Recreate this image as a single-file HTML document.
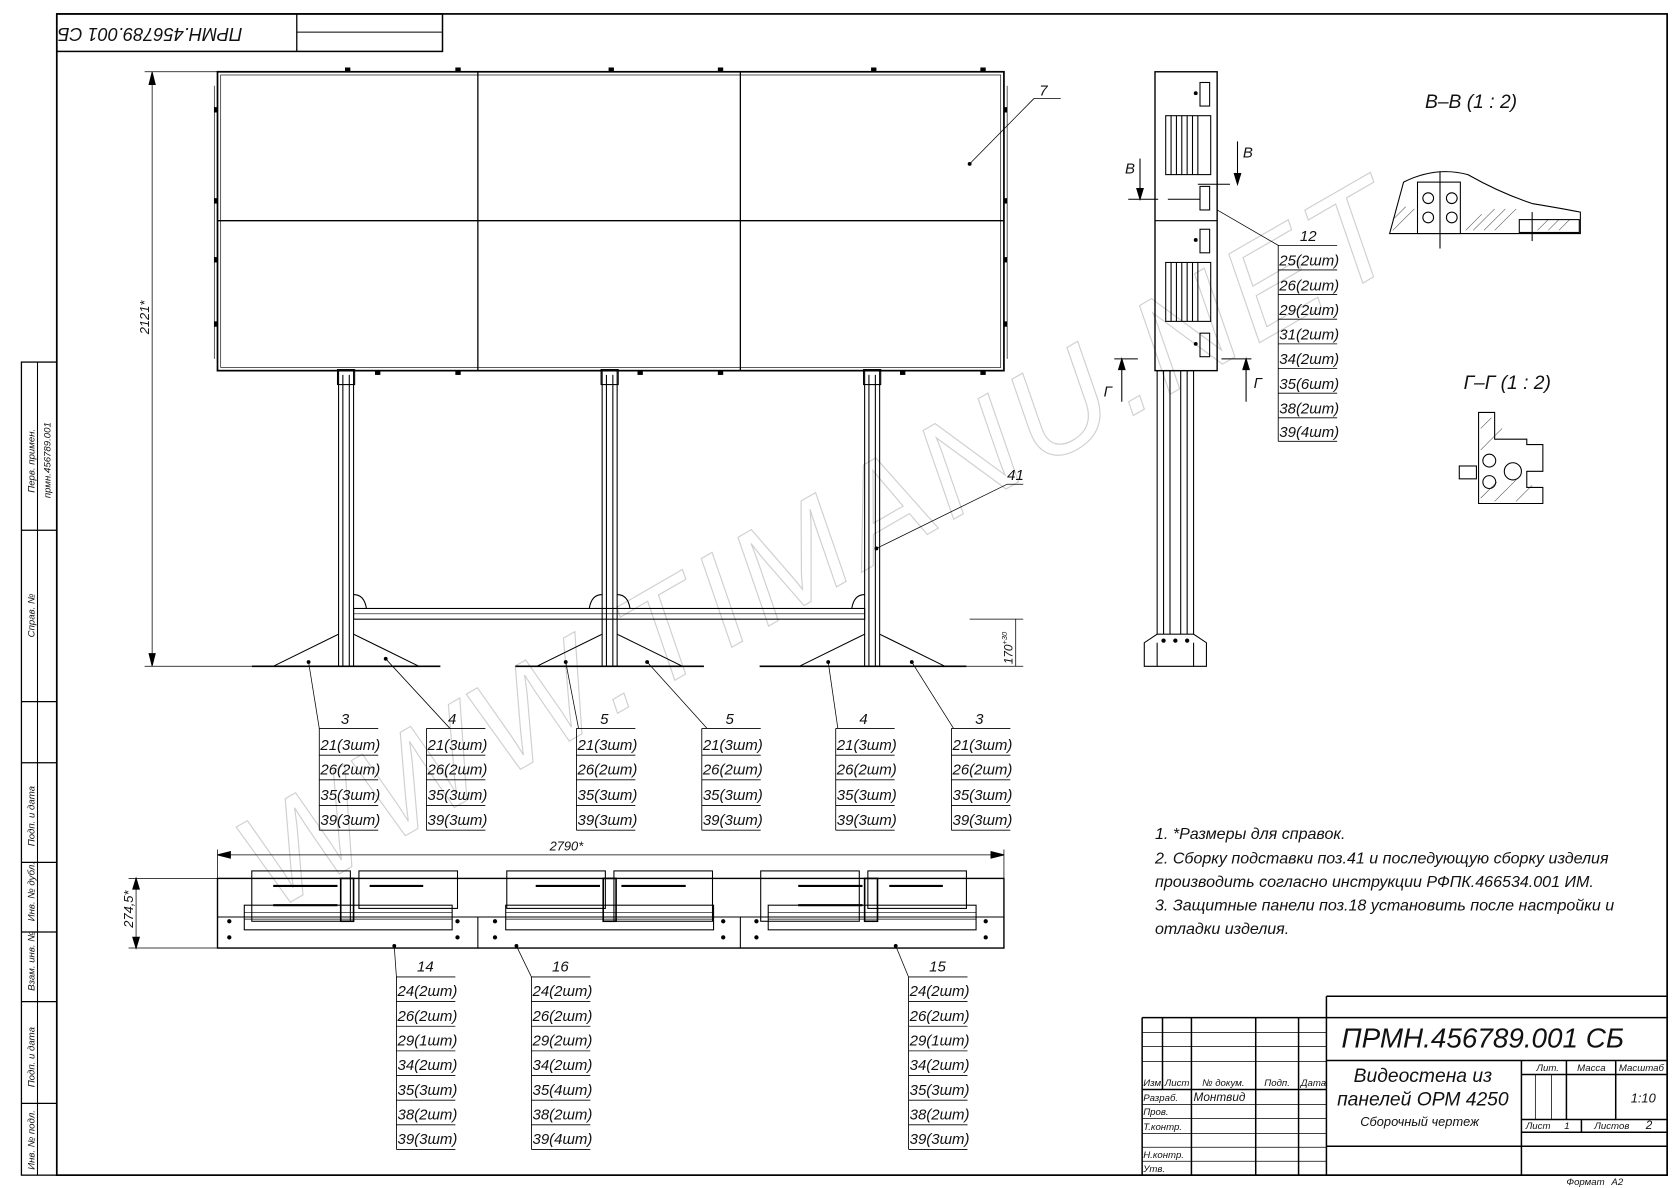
<!DOCTYPE html>
<html><head><meta charset="utf-8"><style>
html,body{margin:0;padding:0;background:#fff}
svg{display:block}
text{font-family:"Liberation Sans","DejaVu Sans",sans-serif;font-style:italic;fill:#111}
.t{font-size:14px}
.s{font-size:9px}
</style></head><body>
<svg width="1680" height="1188" viewBox="0 0 1568 1109" preserveAspectRatio="none" xmlns="http://www.w3.org/2000/svg">
<rect width="1568" height="1109" fill="#fff"/>
<!-- watermark -->
<g transform="rotate(-30 765 505)"><text x="765" y="550" text-anchor="middle" style="font-size:125px;font-style:italic;fill:none;stroke:#d0d0d0;stroke-width:1.1;letter-spacing:6px">WWW.TIMANU.NET</text></g>
<g fill="none" stroke="#000" stroke-width="1">
<!-- frame -->
<rect x="53" y="13" width="1503" height="1084" stroke-width="1.6"/>
<rect x="20" y="338" width="33" height="759" stroke-width="1.2"/>
<line x1="35" y1="338" x2="35" y2="1097"/>
<line x1="20" y1="495" x2="53" y2="495" stroke-width="1.2"/>
<line x1="20" y1="655" x2="53" y2="655" stroke-width="1.2"/>
<line x1="20" y1="712" x2="53" y2="712" stroke-width="1.2"/>
<line x1="20" y1="805" x2="53" y2="805" stroke-width="1.2"/>
<line x1="20" y1="870" x2="53" y2="870" stroke-width="1.2"/>
<line x1="20" y1="935" x2="53" y2="935" stroke-width="1.2"/>
<line x1="20" y1="1030" x2="53" y2="1030" stroke-width="1.2"/>
<!-- top-left stamp -->
<rect x="53" y="13" width="360" height="35" stroke-width="1.4"/>
<line x1="277" y1="13" x2="277" y2="48" stroke-width="1.2"/>
<line x1="277" y1="30" x2="413" y2="30"/>

<!-- front view panel -->
<rect x="203" y="67" width="734" height="279" stroke-width="1.6"/>
<rect x="206" y="70" width="728" height="273" stroke-width="0.6"/>
<line x1="446" y1="67" x2="446" y2="346" stroke-width="1.2"/>
<line x1="691" y1="67" x2="691" y2="346" stroke-width="1.2"/>
<line x1="203" y1="206" x2="937" y2="206" stroke-width="1.2"/>
<line x1="200" y1="80" x2="200" y2="335" stroke-width="0.6"/>
<line x1="940" y1="80" x2="940" y2="335" stroke-width="0.6"/>
<g fill="#000" stroke="none">
<rect x="322" y="63" width="5" height="4"/><rect x="425" y="63" width="5" height="4"/><rect x="568" y="63" width="5" height="4"/><rect x="670" y="63" width="5" height="4"/><rect x="813" y="63" width="5" height="4"/><rect x="915" y="63" width="5" height="4"/>
<rect x="937" y="100" width="3" height="5"/><rect x="937" y="185" width="3" height="5"/><rect x="937" y="240" width="3" height="5"/><rect x="937" y="300" width="3" height="5"/>
<rect x="200" y="100" width="3" height="5"/><rect x="200" y="185" width="3" height="5"/><rect x="200" y="240" width="3" height="5"/><rect x="200" y="300" width="3" height="5"/>
<rect x="350" y="346" width="5" height="4"/><rect x="425" y="346" width="5" height="4"/><rect x="595" y="346" width="5" height="4"/><rect x="670" y="346" width="5" height="4"/><rect x="840" y="346" width="5" height="4"/><rect x="915" y="346" width="5" height="4"/>
</g>
<!-- legs -->
<g stroke-width="1">
<rect x="316" y="346" width="14" height="276"/><line x1="320" y1="350" x2="320" y2="622"/><line x1="326" y1="350" x2="326" y2="622"/>
<rect x="562" y="346" width="14" height="276"/><line x1="566" y1="350" x2="566" y2="622"/><line x1="572" y1="350" x2="572" y2="622"/>
<rect x="807" y="346" width="14" height="276"/><line x1="811" y1="350" x2="811" y2="622"/><line x1="817" y1="350" x2="817" y2="622"/>
<rect x="315" y="345" width="16" height="14"/><rect x="561" y="345" width="16" height="14"/><rect x="806" y="345" width="16" height="14"/>
<!-- crossbar -->
<rect x="330" y="568" width="477" height="10"/>
<line x1="330" y1="573" x2="807" y2="573" stroke-width="0.5"/>
<path d="M330 555 q10 0 12 13 M562 555 q-10 0 -12 13 M576 555 q10 0 12 13 M807 555 q-10 0 -12 13"/>
<!-- feet -->
<path d="M255 622 L316 592 M330 592 L391 622"/>
<path d="M501 622 L562 592 M576 592 L637 622"/>
<path d="M746 622 L807 592 M821 592 L882 622"/>
<line x1="235" y1="622" x2="411" y2="622" stroke-width="1.6"/>
<line x1="481" y1="622" x2="657" y2="622" stroke-width="1.6"/>
<line x1="709" y1="622" x2="902" y2="622" stroke-width="1.6"/>
</g>
<!-- dimension 2121 -->
<g stroke-width="0.7">
<line x1="142" y1="67" x2="142" y2="622"/>
<line x1="135" y1="67" x2="203" y2="67"/>
<line x1="135" y1="622" x2="235" y2="622"/>
<path d="M142 67 l-3 12 h6 z M142 622 l-3 -12 h6 z" fill="#000"/>
<line x1="948" y1="578" x2="948" y2="622"/>
<line x1="902" y1="622" x2="955" y2="622"/>
<line x1="905" y1="578" x2="955" y2="578"/>
<!-- leaders -->
<polyline points="905,153 965,92 990,92"/>
<polyline points="818,512 940,452 955,452"/>
<line x1="288" y1="618" x2="298" y2="680"/>
<line x1="360" y1="615" x2="420" y2="680"/>
<line x1="528" y1="618" x2="540" y2="680"/>
<line x1="604" y1="618" x2="660" y2="680"/>
<line x1="773" y1="618" x2="782" y2="680"/>
<line x1="851" y1="618" x2="890" y2="680"/>
</g>
<g fill="#000" stroke="none"><circle cx="905" cy="153" r="1.8"/><circle cx="818" cy="512" r="1.8"/>
<circle cx="288" cy="618" r="1.8"/><circle cx="360" cy="615" r="1.8"/><circle cx="528" cy="618" r="1.8"/><circle cx="604" cy="618" r="1.8"/><circle cx="773" cy="618" r="1.8"/><circle cx="851" cy="618" r="1.8"/></g>

<!-- tables front -->
<g stroke-width="0.8">
<path d="M298 680h55M298 705h55M298 728h55M298 752h55M298 775h55M298 680v95"/>
<path d="M398 680h55M398 705h55M398 728h55M398 752h55M398 775h55M398 680v95"/>
<path d="M538 680h55M538 705h55M538 728h55M538 752h55M538 775h55M538 680v95"/>
<path d="M655 680h55M655 705h55M655 728h55M655 752h55M655 775h55M655 680v95"/>
<path d="M780 680h55M780 705h55M780 728h55M780 752h55M780 775h55M780 680v95"/>
<path d="M888 680h55M888 705h55M888 728h55M888 752h55M888 775h55M888 680v95"/>
</g>

<!-- top view -->
<g stroke-width="1">
<rect x="203" y="820" width="734" height="65" stroke-width="1.3"/>
<line x1="203" y1="856" x2="937" y2="856"/>
<line x1="446" y1="856" x2="446" y2="885"/><line x1="691" y1="856" x2="691" y2="885"/>
<rect x="235" y="813" width="92" height="47"/><rect x="335" y="813" width="92" height="35"/>
<rect x="473" y="813" width="92" height="35"/><rect x="573" y="813" width="92" height="47"/>
<rect x="710" y="813" width="92" height="47"/><rect x="810" y="813" width="92" height="35"/>
<rect x="228" y="845" width="194" height="23"/><rect x="472" y="845" width="194" height="23"/><rect x="717" y="845" width="194" height="23"/>
<path d="M228 852h194M228 858h194M472 852h194M472 858h194M717 852h194M717 858h194" stroke-width="0.6"/>
<path d="M255 827h60M345 827h50M500 827h60M580 827h60M745 827h60M830 827h50M255 845h60M745 845h60" stroke-width="2"/>
<rect x="318" y="820" width="12" height="40" stroke-width="1.5"/><rect x="563" y="820" width="12" height="40" stroke-width="1.5"/><rect x="807" y="820" width="12" height="40" stroke-width="1.5"/>
<line x1="203" y1="798" x2="937" y2="798" stroke-width="0.7"/>
<line x1="203" y1="793" x2="203" y2="820" stroke-width="0.7"/><line x1="937" y1="793" x2="937" y2="820" stroke-width="0.7"/>
<path d="M203 798 l12 -3 v6 z M937 798 l-12 -3 v6 z" fill="#000"/>
<line x1="127" y1="820" x2="127" y2="885" stroke-width="0.7"/>
<line x1="120" y1="820" x2="203" y2="820" stroke-width="0.7"/><line x1="120" y1="885" x2="203" y2="885" stroke-width="0.7"/>
<path d="M127 820 l-3 10 h6 z M127 885 l-3 -10 h6 z" fill="#000"/>
<line x1="368" y1="884" x2="370" y2="912" stroke-width="0.7"/>
<line x1="482" y1="883" x2="496" y2="912" stroke-width="0.7"/>
<line x1="836" y1="883" x2="848" y2="912" stroke-width="0.7"/>
</g>
<g fill="#000" stroke="none"><circle cx="368" cy="883" r="1.8"/><circle cx="482" cy="883" r="1.8"/><circle cx="836" cy="883" r="1.8"/>
<circle cx="214" cy="860" r="2"/><circle cx="214" cy="875" r="2"/><circle cx="427" cy="860" r="2"/><circle cx="427" cy="875" r="2"/><circle cx="462" cy="860" r="2"/><circle cx="462" cy="875" r="2"/><circle cx="675" cy="860" r="2"/><circle cx="675" cy="875" r="2"/><circle cx="706" cy="860" r="2"/><circle cx="706" cy="875" r="2"/><circle cx="920" cy="860" r="2"/><circle cx="920" cy="875" r="2"/></g>
<g stroke-width="0.8">
<path d="M370 912h55M370 935h55M370 958h55M370 981h55M370 1004h55M370 1027h55M370 1050h55M370 1073h55M370 912v161"/>
<path d="M496 912h55M496 935h55M496 958h55M496 981h55M496 1004h55M496 1027h55M496 1050h55M496 1073h55M496 912v161"/>
<path d="M848 912h55M848 935h55M848 958h55M848 981h55M848 1004h55M848 1027h55M848 1050h55M848 1073h55M848 912v161"/>
</g>

<!-- side view -->
<g stroke-width="1">
<rect x="1078" y="67" width="58" height="279" stroke-width="1.3"/>
<line x1="1078" y1="206" x2="1136" y2="206"/>
<rect x="1088" y="108" width="42" height="55"/><path d="M1093 108v55M1098 108v55M1103 108v55M1108 108v55M1113 108v55M1118 108v55"/>
<rect x="1088" y="245" width="42" height="55"/><path d="M1093 245v55M1098 245v55M1103 245v55M1108 245v55M1113 245v55M1118 245v55"/>
<rect x="1120" y="77" width="9" height="22"/><rect x="1120" y="174" width="9" height="22"/><rect x="1120" y="214" width="9" height="22"/><rect x="1120" y="311" width="9" height="22"/>
<rect x="1080" y="346" width="34" height="246"/>
<path d="M1086 346v246M1092 346v246M1102 346v246M1108 346v246"/>
<path d="M1080 592 L1068 600 V622 H1126 V600 L1114 592"/>
<line x1="1080" y1="600" x2="1080" y2="622"/><line x1="1114" y1="600" x2="1114" y2="622"/>
<!-- section markers -->
<path d="M1053 186h28M1090 186h30M1120 186v-6M1148 172h-30"/>
<line x1="1064" y1="148" x2="1064" y2="186"/><path d="M1064 186 l-3 -10 h6 z" fill="#000"/>
<line x1="1155" y1="132" x2="1155" y2="172"/><path d="M1155 172 l-3 -10 h6 z" fill="#000"/>
<path d="M1040 335h22M1140 335h28"/>
<line x1="1047" y1="335" x2="1047" y2="375"/><path d="M1047 335 l-3 10 h6 z" fill="#000"/>
<line x1="1163" y1="335" x2="1163" y2="375"/><path d="M1163 335 l-3 10 h6 z" fill="#000"/>
<polyline points="1136,196 1193,229 1248,229" stroke-width="0.7"/>
<path d="M1193 229v183M1193 252h55M1193 275h55M1193 298h55M1193 321h55M1193 344h55M1193 367h55M1193 390h55M1193 412h55" stroke-width="0.8"/>
</g>
<g fill="#000" stroke="none"><circle cx="1108" cy="598" r="2"/><circle cx="1097" cy="598" r="2"/><circle cx="1086" cy="598" r="2"/><circle cx="1116" cy="87" r="1.8"/><circle cx="1116" cy="224" r="1.8"/><circle cx="1116" cy="321" r="1.8"/></g>
<!-- sections -->
<g stroke-width="1">
<path d="M1297 218 L1310 170 Q1340 155 1370 163 Q1400 180 1430 190 Q1460 195 1475 198 V218 Z"/>
<rect x="1323" y="170" width="40" height="48"/>
<circle cx="1333" cy="185" r="5"/><circle cx="1333" cy="203" r="5"/><circle cx="1355" cy="185" r="5"/><circle cx="1355" cy="203" r="5"/>
<line x1="1344" y1="160" x2="1344" y2="232"/>
<rect x="1418" y="205" width="56" height="12"/>
<line x1="1430" y1="198" x2="1430" y2="225"/>
<path d="M1380 385 V470 H1440 V455 H1425 V440 H1440 V415 H1425 V410 H1395 V385 Z"/>
<circle cx="1390" cy="430" r="6"/><circle cx="1390" cy="450" r="6"/><circle cx="1412" cy="440" r="8"/>
<rect x="1362" y="435" width="16" height="12"/>
</g>
<g stroke="#000" stroke-width="0.5" opacity="0.7">
<path d="M1300 205 l12 -12 M1300 215 l20 -20 M1368 215 l15 -15 M1375 215 l20 -20 M1385 215 l20 -20 M1395 215 l20 -20 M1435 215 l10 -10 M1445 215 l10 -10 M1455 215 l10 -10"/>
<path d="M1382 400 l10 -10 M1382 420 l20 -20 M1382 465 l15 -15 M1395 468 l20 -20 M1415 468 l15 -15"/>
</g>

<!-- title block -->
<g stroke-width="1.4">
<path d="M1238 930 H1556 M1066 950 H1556 M1238 990 H1556 M1066 950 V1097 M1238 930 V1097 M1420 990 V1097 M1238 1070 H1556 M1420 1003 H1556 M1420 1045 H1556 M1420 1057 H1556 M1462 990 V1045 M1508 990 V1045 M1066 1017 H1238 M1085 950 V1017 M1112 950 V1097 M1172 950 V1097 M1212 950 V1097 M1476 1045 V1057"/>
</g>
<g stroke-width="0.7">
<path d="M1066 964 H1238 M1066 977 H1238 M1066 991 H1238 M1066 1031 H1238 M1066 1044 H1238 M1066 1058 H1238 M1066 1071 H1238 M1066 1084 H1238 M1433 1003 V1045 M1448 1003 V1045"/>
</g>
</g>

<!-- text -->
<text x="140" y="36" text-anchor="middle" transform="rotate(180 140 31)" style="font-size:17px">ПРМН.456789.001 СБ</text>
<g class="s">
<text transform="translate(32 460) rotate(-90)">Перв. примен.</text>
<text transform="translate(47 465) rotate(-90)">прмн.456789.001</text>
<text transform="translate(32 595) rotate(-90)">Справ. №</text>
<text transform="translate(32 790) rotate(-90)">Подп. и дата</text>
<text transform="translate(32 860) rotate(-90)">Инв. № дубл.</text>
<text transform="translate(32 925) rotate(-90)">Взам. инв. №</text>
<text transform="translate(32 1015) rotate(-90)">Подп. и дата</text>
<text transform="translate(32 1092) rotate(-90)">Инв. № подл.</text>
</g>
<text transform="translate(139 312) rotate(-90)" style="font-size:12px">2121*</text>
<text transform="translate(945 620) rotate(-90)" style="font-size:11px">170<tspan dy="-5" font-size="7">+30</tspan></text>
<text x="513" y="794" style="font-size:12px">2790*</text>
<text transform="translate(124 866) rotate(-90)" style="font-size:12px">274,5*</text>
<g class="t">
<text x="970" y="89">7</text>
<text x="940" y="448">41</text>
<text x="322" y="676" text-anchor="middle">3</text><text x="422" y="676" text-anchor="middle">4</text><text x="564" y="676" text-anchor="middle">5</text><text x="681" y="676" text-anchor="middle">5</text><text x="806" y="676" text-anchor="middle">4</text><text x="914" y="676" text-anchor="middle">3</text>
</g>
<g class="t">
<text x="299" y="700">21(3шт)</text><text x="299" y="723">26(2шт)</text><text x="299" y="747">35(3шт)</text><text x="299" y="770">39(3шт)</text>
<text x="399" y="700">21(3шт)</text><text x="399" y="723">26(2шт)</text><text x="399" y="747">35(3шт)</text><text x="399" y="770">39(3шт)</text>
<text x="539" y="700">21(3шт)</text><text x="539" y="723">26(2шт)</text><text x="539" y="747">35(3шт)</text><text x="539" y="770">39(3шт)</text>
<text x="656" y="700">21(3шт)</text><text x="656" y="723">26(2шт)</text><text x="656" y="747">35(3шт)</text><text x="656" y="770">39(3шт)</text>
<text x="781" y="700">21(3шт)</text><text x="781" y="723">26(2шт)</text><text x="781" y="747">35(3шт)</text><text x="781" y="770">39(3шт)</text>
<text x="889" y="700">21(3шт)</text><text x="889" y="723">26(2шт)</text><text x="889" y="747">35(3шт)</text><text x="889" y="770">39(3шт)</text>
<text x="397" y="907" text-anchor="middle">14</text><text x="523" y="907" text-anchor="middle">16</text><text x="875" y="907" text-anchor="middle">15</text>
<text x="371" y="930">24(2шт)</text><text x="371" y="953">26(2шт)</text><text x="371" y="976">29(1шт)</text><text x="371" y="999">34(2шт)</text><text x="371" y="1022">35(3шт)</text><text x="371" y="1045">38(2шт)</text><text x="371" y="1068">39(3шт)</text>
<text x="497" y="930">24(2шт)</text><text x="497" y="953">26(2шт)</text><text x="497" y="976">29(2шт)</text><text x="497" y="999">34(2шт)</text><text x="497" y="1022">35(4шт)</text><text x="497" y="1045">38(2шт)</text><text x="497" y="1068">39(4шт)</text>
<text x="849" y="930">24(2шт)</text><text x="849" y="953">26(2шт)</text><text x="849" y="976">29(1шт)</text><text x="849" y="999">34(2шт)</text><text x="849" y="1022">35(3шт)</text><text x="849" y="1045">38(2шт)</text><text x="849" y="1068">39(3шт)</text>
<text x="1221" y="225" text-anchor="middle">12</text>
<text x="1194" y="248">25(2шт)</text><text x="1194" y="271">26(2шт)</text><text x="1194" y="294">29(2шт)</text><text x="1194" y="317">31(2шт)</text><text x="1194" y="340">34(2шт)</text><text x="1194" y="363">35(6шт)</text><text x="1194" y="386">38(2шт)</text><text x="1194" y="408">39(4шт)</text>
<text x="1050" y="162">В</text><text x="1160" y="147">В</text><text x="1030" y="370">Г</text><text x="1170" y="362">Г</text>
</g>
<text x="1330" y="101" style="font-size:18px">В–В  (1 : 2)</text>
<text x="1366" y="363" style="font-size:18px">Г–Г  (1 : 2)</text>
<g style="font-size:15px">
<text x="1078" y="783">1. *Размеры для справок.</text>
<text x="1078" y="806">2. Сборку подставки поз.41 и последующую сборку изделия</text>
<text x="1078" y="828">производить согласно инструкции РФПК.466534.001 ИМ.</text>
<text x="1078" y="850">3. Защитные панели поз.18 установить после настройки и</text>
<text x="1078" y="872">отладки изделия.</text>
</g>
<text x="1252" y="978" style="font-size:26px">ПРМН.456789.001 СБ</text>
<text x="1328" y="1010" text-anchor="middle" style="font-size:18px">Видеостена из</text>
<text x="1328" y="1032" text-anchor="middle" style="font-size:18px">панелей ОРМ 4250</text>
<text x="1325" y="1051" text-anchor="middle" style="font-size:12px">Сборочный чертеж</text>
<g class="s">
<text x="1434" y="1000">Лит.</text><text x="1472" y="1000">Масса</text><text x="1511" y="1000">Масштаб</text>
<text x="1522" y="1029" style="font-size:12px">1:10</text>
<text x="1424" y="1054">Лист</text><text x="1460" y="1054">1</text><text x="1488" y="1054">Листов</text><text x="1536" y="1054" style="font-size:11px">2</text>
<text x="1067" y="1014">Изм.</text><text x="1087" y="1014">Лист</text><text x="1122" y="1014">№ докум.</text><text x="1180" y="1014">Подп.</text><text x="1214" y="1014">Дата</text>
<text x="1067" y="1028">Разраб.</text><text x="1114" y="1028" style="font-size:11px">Монтвид</text>
<text x="1067" y="1041">Пров.</text><text x="1067" y="1055">Т.контр.</text><text x="1067" y="1081">Н.контр.</text><text x="1067" y="1094">Утв.</text>
<text x="1462" y="1106">Формат</text><text x="1504" y="1106">А2</text>
</g>
</svg>
</body></html>
